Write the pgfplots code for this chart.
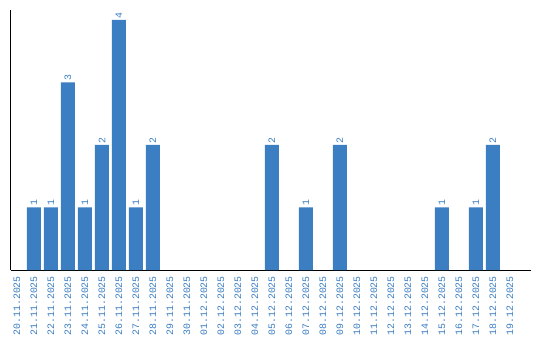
\documentclass[border=0pt]{standalone}
\usepackage{pgfplots}
\pgfplotsset{compat=1.18}
\usepackage{fontspec}
\setmainfont{Liberation Mono}
\definecolor{barblue}{RGB}{59,126,194}
\begin{document}
\begin{tikzpicture}
\path[use as bounding box] (-10.5bp,-70bp) rectangle (529.5bp,270bp);
\begin{axis}[
  scale only axis,
  width=520.5bp, height=260bp,
  xmin=-0.38, xmax=30.24, ymin=0, ymax=4.16,
  axis lines=left,
  axis line style={-, line width=1bp, black},
  /pgf/number format/assume math mode=true,
  xtick={0,...,29},
  xticklabels={20.11.2025,21.11.2025,22.11.2025,23.11.2025,24.11.2025,25.11.2025,26.11.2025,27.11.2025,28.11.2025,29.11.2025,30.11.2025,01.12.2025,02.12.2025,03.12.2025,04.12.2025,05.12.2025,06.12.2025,07.12.2025,08.12.2025,09.12.2025,10.12.2025,11.12.2025,12.12.2025,13.12.2025,14.12.2025,15.12.2025,16.12.2025,17.12.2025,18.12.2025,19.12.2025},
  xticklabel style={rotate=90, anchor=east, font=\fontsize{9.9}{10}\selectfont, text=barblue, inner sep=0pt, xshift=-6bp},
  ytick=\empty,
  major tick length=0pt,
  ybar, bar width=14bp,
  nodes near coords={\pgfmathprintnumber[assume math mode=true]{\pgfplotspointmeta}},
  every node near coord/.append style={rotate=90, anchor=west, font=\fontsize{9.9}{10}\selectfont, text=barblue, inner sep=1.5bp},
  clip=false,
]
\addplot[fill=barblue, draw=none] coordinates {
(1,1) (2,1) (3,3) (4,1) (5,2) (6,4) (7,1) (8,2)
(15,2) (17,1) (19,2) (25,1) (27,1) (28,2)};
\end{axis}
\end{tikzpicture}
\end{document}
